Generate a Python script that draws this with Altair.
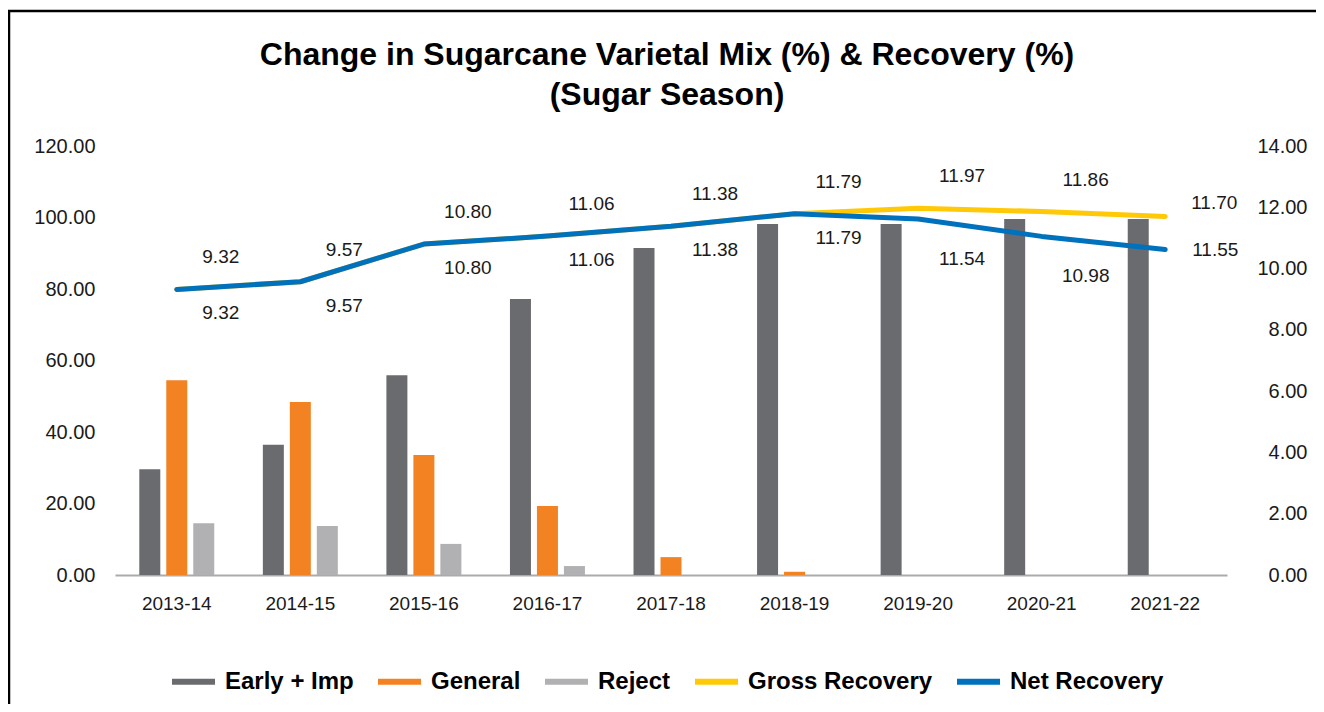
import altair as alt
import pandas as pd

title_lines = ["Change in Sugarcane Varietal Mix (%) & Recovery (%)", "(Sugar Season)"]

seasons = ["2013-14", "2014-15", "2015-16", "2016-17", "2017-18",
           "2018-19", "2019-20", "2020-21", "2021-22"]
early_imp = [29.6, 36.4, 55.9, 77.2, 91.5, 98.2, 98.2, 99.6, 99.6]
general = [54.5, 48.4, 33.6, 19.3, 5.0, 0.9, 0.0, 0.0, 0.0]
reject = [14.5, 13.7, 8.7, 2.5, 0.0, 0.0, 0.0, 0.0, 0.0]
gross_recovery = [9.32, 9.57, 10.80, 11.06, 11.38, 11.79, 11.97, 11.86, 11.70]
net_recovery = [9.32, 9.57, 10.80, 11.06, 11.38, 11.79, 11.62, 11.05, 10.62]
gross_labels = ["9.32", "9.57", "10.80", "11.06", "11.38", "11.79", "11.97", "11.86", "11.70"]
net_labels = ["9.32", "9.57", "10.80", "11.06", "11.38", "11.79", "11.54", "10.98", "11.55"]

series_names = ["Early + Imp", "General", "Reject", "Gross Recovery", "Net Recovery"]
series_colors = ["#6A6B6F", "#F28222", "#B1B1B3", "#FFC907", "#0071BC"]
bar_series = series_names[:3]
bar_colors = series_colors[:3]

rows = []
for s, a, b, c in zip(seasons, early_imp, general, reject):
    rows += [{"season": s, "series": "Early + Imp", "value": a},
             {"season": s, "series": "General", "value": b},
             {"season": s, "series": "Reject", "value": c}]
bars_df = pd.DataFrame(rows)

lrows = []
for s, g, n in zip(seasons, gross_recovery, net_recovery):
    lrows += [{"season": s, "series": "Gross Recovery", "value": g},
              {"season": s, "series": "Net Recovery", "value": n}]
lines_df = pd.DataFrame(lrows)

labels_df = pd.DataFrame({"season": seasons, "i": list(range(len(seasons))),
                          "gross": gross_recovery, "net": net_recovery,
                          "gl": gross_labels, "nl": net_labels})

FONT = "Liberation Sans"
TXT = "#1a1a1a"

color_scale = alt.Scale(domain=series_names, range=series_colors)
legend = alt.Legend(
    orient="none", legendX=54, legendY=511, direction="horizontal", columns=5,
    title=None, symbolType="stroke", symbolSize=1849, symbolStrokeWidth=6,
    labelFont=FONT, labelFontSize=24, labelFontWeight="bold", labelColor="black",
    columnPadding=12, labelOffset=7, padding=0, labelLimit=400,
)

x_scale = alt.Scale(paddingInner=0, paddingOuter=0)
x_axis = alt.Axis(title=None, labelAngle=0, ticks=False, domainColor="#ABABAB",
                  domainWidth=2, labelFont=FONT, labelFontSize=19, labelColor=TXT,
                  labelPadding=19, grid=False)
X = alt.X("season:N", sort=seasons, scale=x_scale, axis=x_axis)

bars = alt.Chart(bars_df).mark_bar().encode(
    x=X,
    xOffset=alt.XOffset("series:N", sort=bar_series,
                        scale=alt.Scale(paddingInner=0.222, paddingOuter=0.9)),
    y=alt.Y("value:Q", scale=alt.Scale(domain=[0, 120], nice=False),
            axis=alt.Axis(title=None, values=[0, 20, 40, 60, 80, 100, 120], format=".2f",
                          grid=False, domain=False, ticks=False, labelFont=FONT,
                          labelFontSize=20, labelColor=TXT, labelPadding=20)),
    fill=alt.Fill("series:N", scale=alt.Scale(domain=bar_series, range=bar_colors),
                  legend=None),
)

y_right = alt.Scale(domain=[0, 14], nice=False)
right_axis = alt.Axis(orient="right", title=None, values=[0, 2, 4, 6, 8, 10, 12, 14],
                      format=".2f", grid=False, domain=False, ticks=False,
                      labelFont=FONT, labelFontSize=20, labelColor=TXT,
                      labelAlign="right", labelPadding=80)

lines = alt.Chart(lines_df).mark_line(strokeWidth=5, strokeCap="round", strokeJoin="round").encode(
    x=X,
    y=alt.Y("value:Q", scale=y_right, axis=right_axis, title=None),
    color=alt.Color("series:N", scale=color_scale, legend=legend, sort=series_names),
)

gross_line = lines.transform_filter("datum.series == 'Gross Recovery'")
net_line = lines.transform_filter("datum.series == 'Net Recovery'")

def label_layer(field, text_field, flt, dx, dy):
    return alt.Chart(labels_df).mark_text(
        font=FONT, fontSize=19, color=TXT, dx=dx, dy=dy, baseline="middle", align="center"
    ).encode(
        x=X,
        y=alt.Y(f"{field}:Q", scale=y_right, axis=right_axis, title=None),
        text=f"{text_field}:N",
    ).transform_filter(flt)

up = label_layer("gross", "gl", "datum.i < 8", 44, -32)
low1 = label_layer("net", "nl", "datum.i < 6", 44, 24)
low2 = label_layer("net", "nl", "datum.i >= 6 && datum.i < 8", 44, 40)
last_up = label_layer("gross", "gl", "datum.i == 8", 49, -13)
last_low = label_layer("net", "nl", "datum.i == 8", 50, 0)

right = alt.layer(gross_line, net_line, up, low1, low2, last_up, last_low)

one = pd.DataFrame({"a": [0]})
top_rule = alt.Chart(one).mark_rule(color="black", strokeWidth=2.5).encode(
    x=alt.value(-107), x2=alt.value(1215), y=alt.value(-135))
left_rule = alt.Chart(one).mark_rule(color="black", strokeWidth=2.5).encode(
    x=alt.value(-106), y=alt.value(-136), y2=alt.value(580))

title_df = pd.DataFrame({"t": title_lines, "k": [0, 1]})
title1 = alt.Chart(title_df).transform_filter("datum.k == 0").mark_text(
    font=FONT, fontSize=32, fontWeight="bold", color="black", align="center", baseline="middle"
).encode(text="t:N", x=alt.value(552), y=alt.value(-91))
title2 = alt.Chart(title_df).transform_filter("datum.k == 1").mark_text(
    font=FONT, fontSize=32, fontWeight="bold", color="black", align="center", baseline="middle"
).encode(text="t:N", x=alt.value(552), y=alt.value(-51))

chart = alt.layer(bars, right, top_rule, left_rule, title1, title2).resolve_scale(
    y="independent"
).properties(
    width=1112, height=429,
    padding={"left": 107, "top": 138, "right": 89, "bottom": 129},
    autosize=alt.AutoSizeParams(type="none"),
).configure_view(stroke=None)

chart.save("out.html", embed_options={"renderer": "svg", "actions": False})
